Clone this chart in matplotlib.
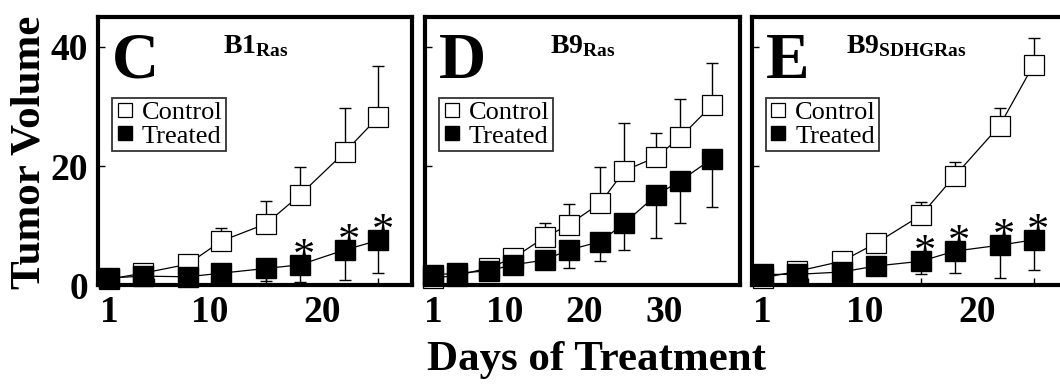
import matplotlib

matplotlib.use("Agg")

import matplotlib.pyplot as plt
from matplotlib.lines import Line2D

plt.rcParams["font.family"] = ["Liberation Serif", "DejaVu Serif"]
plt.rcParams["mathtext.fontset"] = "custom"
plt.rcParams["mathtext.rm"] = "Liberation Serif:bold"
plt.rcParams["mathtext.bf"] = "Liberation Serif:bold"

# panel C: B1 Ras
C_days = [1, 4, 8, 11, 15, 18, 22, 25]
C_control = [1.0, 2.0, 3.5, 7.4, 10.3, 15.1, 22.3, 28.2]
C_control_err = [0, 0, 0, 2.2, 3.8, 4.7, 7.5, 8.6]
C_treated = [1.2, 1.5, 1.4, 2.0, 2.8, 3.4, 5.9, 7.5]
C_treated_err = [0, 0, 0, 0, 2.1, 2.9, 5.1, 5.5]
C_sig = [18, 22, 25]

# panel D: B9 Ras
D_days = [1, 4, 8, 11, 15, 18, 22, 25, 29, 32, 36]
D_control = [1.2, 1.6, 2.9, 4.5, 8.0, 10.1, 13.8, 19.2, 21.5, 24.8, 30.2]
D_control_err = [0, 0, 0, 0, 2.4, 3.5, 6.0, 8.0, 4.0, 6.4, 7.1]
D_treated = [1.7, 2.0, 2.4, 3.4, 4.2, 5.9, 7.3, 10.4, 15.1, 17.5, 21.2]
D_treated_err = [0, 0, 0, 0, 0, 3.1, 3.3, 4.5, 7.2, 7.1, 8.1]
D_sig = []

# panel E: B9 SDHC-G Ras
E_days = [1, 4, 8, 11, 15, 18, 22, 25]
E_control = [1.2, 2.3, 4.0, 7.0, 11.7, 18.3, 26.8, 37.0]
E_control_err = [0, 0, 0, 0, 2.3, 2.3, 3.0, 4.5]
E_treated = [1.8, 1.8, 2.2, 3.2, 4.0, 5.7, 6.7, 7.6]
E_treated_err = [0, 0, 0, 0, 2.2, 3.7, 5.5, 5.1]
E_sig = [15, 18, 22, 25]

Y_TICKS = [0, 20, 40]

PANELS = [
    ("C", r"$\mathrm{B1_{Ras}}$", C_days, C_control, C_control_err,
     C_treated, C_treated_err, C_sig, [1, 10, 20], [5, 10, 15, 20, 25], 28,
     [0.0925, 0.269, 0.296, 0.687], 0.398),
    ("D", r"$\mathrm{B9_{Ras}}$", D_days, D_control, D_control_err,
     D_treated, D_treated_err, D_sig, [1, 10, 20, 30], [10, 20, 30], 39.5,
     [0.401, 0.269, 0.297, 0.687], 0.397),
    ("E", r"$\mathrm{B9_{SDHGRas}}$", E_days, E_control, E_control_err,
     E_treated, E_treated_err, E_sig, [1, 10, 20], [5, 10, 15, 20, 25], 28,
     [0.709, 0.269, 0.298, 0.687], 0.30),
]

fig = plt.figure(figsize=(10.6, 3.9), dpi=100)

for (letter, title, days, control, control_err, treated, treated_err, sig,
     xlabels, xmarks, xmax, rect, title_x) in PANELS:
    ax = fig.add_axes(rect)
    ax.errorbar(days, control, yerr=[[0] * len(days), control_err], fmt="none",
                ecolor="black", elinewidth=1.0, capsize=4, capthick=1.0, zorder=1)
    ax.errorbar(days, treated, yerr=[treated_err, [0] * len(days)], fmt="none",
                ecolor="black", elinewidth=1.0, capsize=4, capthick=1.0, zorder=1)
    ax.plot(days, control, color="black", lw=0.9, marker="s", ms=15,
            mfc="white", mec="black", mew=0.9, clip_on=False, zorder=2)
    ax.plot(days, treated, color="black", lw=0.9, marker="s", ms=15,
            mfc="black", mec="black", clip_on=False, zorder=3)
    for day in sig:
        value = treated[days.index(day)]
        ax.text(day + 0.4, value + 1.4, "*", fontsize=32, ha="center",
                va="center", zorder=4)

    ax.set_xlim(0, xmax)
    ax.set_ylim(0, 45)
    ax.set_xticks(xlabels)
    ax.set_xticklabels([str(v) for v in xlabels], fontsize=27, fontweight="bold")
    ax.set_xticks(xmarks, minor=True)
    ax.tick_params(axis="x", which="major", length=0, pad=7)
    ax.tick_params(axis="x", which="minor", direction="in", length=5, width=1)
    ax.set_yticks(Y_TICKS)
    if letter == "C":
        ax.set_yticklabels([str(v) for v in Y_TICKS], fontsize=27,
                           fontweight="bold")
    else:
        ax.set_yticklabels([])
    ax.tick_params(axis="y", direction="in", length=5, width=1, pad=7)
    for spine in ax.spines.values():
        spine.set_linewidth(3)

    ax.text(0.045, 0.945, letter, transform=ax.transAxes, fontsize=47,
            fontweight="bold", ha="left", va="top")
    ax.text(title_x, 0.865, title, transform=ax.transAxes, fontsize=20,
            ha="left", va="baseline")

    handles = [
        Line2D([], [], ls="none", marker="s", ms=10, mfc="white", mec="black",
               mew=0.9),
        Line2D([], [], ls="none", marker="s", ms=10, mfc="black", mec="black"),
    ]
    leg = ax.legend(handles, ["Control", "Treated"], loc="upper left",
                    bbox_to_anchor=(0.045, 0.70), prop={"size": 19},
                    frameon=True, fancybox=False, borderpad=0.12,
                    labelspacing=0.0, handletextpad=0.3, handlelength=0.7,
                    borderaxespad=0)
    leg.get_frame().set_edgecolor("black")
    leg.get_frame().set_linewidth(1.3)

fig.text(0.028, 0.61, "Tumor Volume", rotation=90, fontsize=31,
         fontweight="bold", ha="center", va="center")
fig.text(0.563, 0.052, "Days of Treatment", fontsize=31, fontweight="bold",
         ha="center", va="baseline")

fig.savefig("out.png", dpi=100)
